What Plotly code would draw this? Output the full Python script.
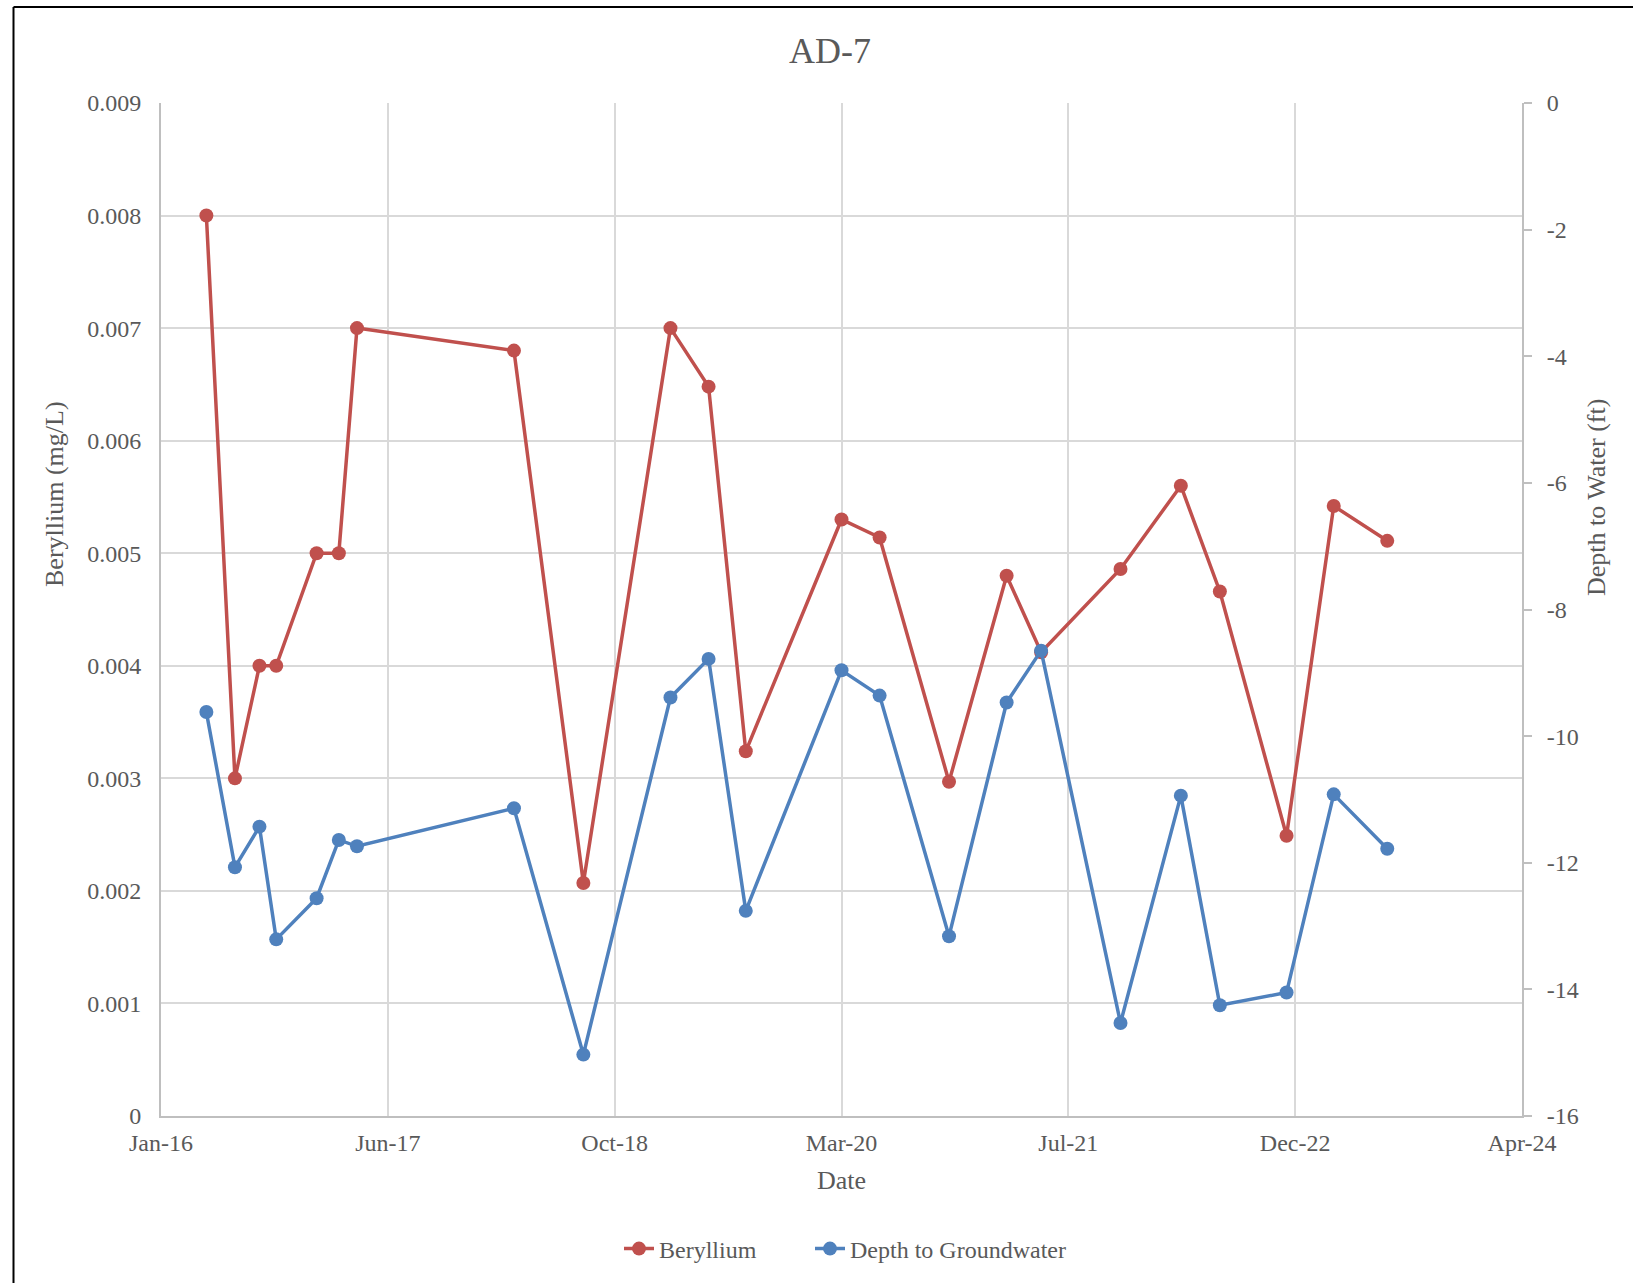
import plotly.graph_objects as go

# ---------------- data ----------------
sample_dates = [
    "2016-05-10", "2016-07-12", "2016-09-04", "2016-10-11", "2017-01-08",
    "2017-02-26", "2017-04-07", "2018-03-19", "2018-08-19", "2019-02-27",
    "2019-05-22", "2019-08-12", "2020-03-10", "2020-06-02", "2020-11-02",
    "2021-03-09", "2021-05-24", "2021-11-15", "2022-03-28", "2022-06-22",
    "2022-11-16", "2023-02-28", "2023-06-26",
]
beryllium = [
    0.008, 0.003, 0.004, 0.004, 0.005,
    0.005, 0.007, 0.0068, 0.00207, 0.007,
    0.00648, 0.00324, 0.0053, 0.00514, 0.00297,
    0.0048, 0.00412, 0.00486, 0.0056, 0.00466,
    0.00249, 0.00542, 0.00511,
]
depth_to_water = [
    -9.62, -12.07, -11.43, -13.21, -12.56,
    -11.64, -11.74, -11.14, -15.03, -9.39,
    -8.78, -12.76, -8.96, -9.36, -13.16,
    -9.47, -8.65, -14.53, -10.94, -14.25,
    -14.05, -10.92, -11.78,
]

x_tick_dates = ["2016-01-31", "2017-06-14", "2018-10-27", "2020-03-10",
                "2021-07-23", "2022-12-05", "2024-04-18"]
x_tick_labels = ["Jan-16", "Jun-17", "Oct-18", "Mar-20", "Jul-21", "Dec-22", "Apr-24"]

y2_tick_vals = [0, -2, -4, -6, -8, -10, -12, -14, -16]
y2_tick_labels = ["0", "-2", "-4", "-6", "-8", "-10", "-12", "-14", "-16"]

# ---------------- style ----------------
W, H = 1633, 1283
L, R, T, B = 161, 111, 103, 167
RED = "#C0504D"
BLUE = "#4F81BD"
TXT = "#595959"
GRID = "#D9D9D9"
AXIS = "#BFBFBF"
FONT = "Liberation Serif, Times New Roman, serif"

pw = W - L - R
ph = H - T - B

def px_to_paper_x(px):
    return (px - L) / pw

def px_to_paper_y(py):
    return (H - B - py) / ph

fig = go.Figure()
fig.add_trace(go.Scatter(
    x=sample_dates, y=beryllium, name="Beryllium", mode="lines+markers",
    line=dict(color=RED, width=3.5), marker=dict(color=RED, size=14),
    yaxis="y", legend="legend",
))
fig.add_trace(go.Scatter(
    x=sample_dates, y=depth_to_water, name="Depth to Groundwater", mode="lines+markers",
    line=dict(color=BLUE, width=3.5), marker=dict(color=BLUE, size=14),
    yaxis="y2", legend="legend2",
))

legend_common = dict(
    orientation="h", xanchor="left", yanchor="middle",
    y=px_to_paper_y(1249),
    font=dict(size=24, color=TXT), bgcolor="rgba(0,0,0,0)",
)

fig.update_layout(
    width=W, height=H,
    margin=dict(l=L, r=R, t=T, b=B, pad=0),
    paper_bgcolor="white", plot_bgcolor="white",
    font=dict(family=FONT, size=24, color=TXT),
    title=dict(text="AD-7", font=dict(size=36, color=TXT, family=FONT),
               x=px_to_paper_x(830), xref="paper", xanchor="center",
               y=1 - 50 / H, yref="container", yanchor="middle"),
    xaxis=dict(
        type="date", range=[x_tick_dates[0], x_tick_dates[-1]],
        tickmode="array", tickvals=x_tick_dates, ticktext=x_tick_labels,
        showgrid=True, gridcolor=GRID, gridwidth=1.5,
        showline=True, linecolor=AXIS, linewidth=2,
        ticks="", ticklabelstandoff=4,
        title=dict(text="Date", font=dict(size=26, color=TXT), standoff=16),
        zeroline=False,
    ),
    yaxis=dict(
        range=[0, 0.009], dtick=0.001, tick0=0,
        showgrid=True, gridcolor=GRID, gridwidth=1.5,
        showline=True, linecolor=AXIS, linewidth=2,
        ticks="", ticklabelstandoff=13,
        zeroline=False,
    ),
    yaxis2=dict(
        overlaying="y", side="right", range=[-16, 0],
        tickmode="array", tickvals=y2_tick_vals, ticktext=y2_tick_labels,
        showgrid=False, showline=True, linecolor=AXIS, linewidth=2,
        ticks="outside", ticklen=8, tickcolor=AXIS, tickwidth=1.5,
        ticklabelstandoff=10,
        zeroline=False,
    ),
    legend=dict(x=px_to_paper_x(619), **legend_common),
    legend2=dict(x=px_to_paper_x(810), **legend_common),
    showlegend=True,
    annotations=[
        dict(text="Beryllium (mg/L)", textangle=-90, showarrow=False,
             xref="paper", yref="paper",
             x=px_to_paper_x(54), y=px_to_paper_y(494),
             xanchor="center", yanchor="middle",
             font=dict(size=26, color=TXT, family=FONT)),
        dict(text="Depth to Water (ft)", textangle=-90, showarrow=False,
             xref="paper", yref="paper",
             x=px_to_paper_x(1596), y=px_to_paper_y(498),
             xanchor="center", yanchor="middle",
             font=dict(size=26, color=TXT, family=FONT)),
    ],
    shapes=[
        dict(type="line", xref="paper", yref="paper",
             x0=px_to_paper_x(13.5), x1=px_to_paper_x(13.5),
             y0=px_to_paper_y(H + 20), y1=px_to_paper_y(7),
             line=dict(color="black", width=2)),
        dict(type="line", xref="paper", yref="paper",
             x0=px_to_paper_x(13.5), x1=px_to_paper_x(W + 20),
             y0=px_to_paper_y(7), y1=px_to_paper_y(7),
             line=dict(color="black", width=2)),
    ],
)

fig.write_html("out.html", config={"displayModeBar": False},
               post_script="document.body.style.margin='0';")
